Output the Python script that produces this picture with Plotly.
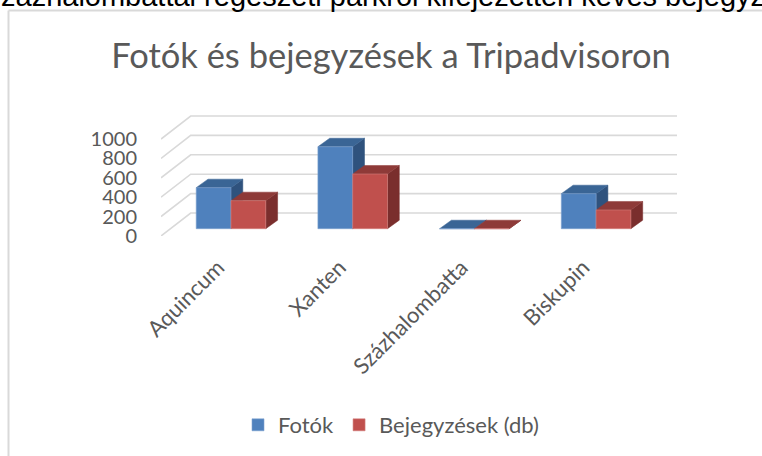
import plotly.graph_objects as go

categories = ["Aquincum", "Xanten", "Százhalombatta", "Biskupin"]
fotok = [423, 845, 0, 361]
bejegyzesek = [289, 564, 0, 193]
y_ticks = [0, 200, 400, 600, 800, 1000]
series_names = ["Fotók", "Bejegyzések (db)"]

W, H = 762, 456
FONT = "Lato"
GRAY = "#595959"
GRID = "#D9D9D9"

# pixel frame of the plot area
PX_LEFT, PX_RIGHT, PY_BOTTOM, PY_TOP = 161, 690, 236, 110
CAT_PX = 121.7        # pixels per category
C0_PX = 231           # pixel of the first category centre
V_PX = 0.097          # pixels per value unit

x_range = [(PX_LEFT - C0_PX) / CAT_PX, (PX_RIGHT - C0_PX) / CAT_PX]
y_range = [0, (PY_BOTTOM - PY_TOP) / V_PX]

# oblique projection in data units
WALL_DX, WALL_DY = 29.7 / CAT_PX, 23 / V_PX
BAR_BASE = 7.3 / V_PX
BAR_DX, BAR_DY = 11.8 / CAT_PX, 8.5 / V_PX
BAR_W = 34.8 / CAT_PX
GRID_END = (677 - C0_PX) / CAT_PX
LABEL_SHIFT = 13 / CAT_PX


def poly(points, fill):
    path = "M" + " L".join(f"{x},{y}" for x, y in points) + " Z"
    return dict(type="path", path=path, xref="x", yref="y", layer="below",
                fillcolor=fill, line=dict(color=fill, width=0.5))


shapes = []
# chart frame
shapes.append(dict(type="line", xref="paper", yref="paper", x0=8.5 / W, x1=8.5 / W,
                   y0=0, y1=1 - 10.5 / H, line=dict(color=GRID, width=2), layer="below"))
shapes.append(dict(type="line", xref="paper", yref="paper", x0=8.5 / W, x1=1,
                   y0=1 - 10.5 / H, y1=1 - 10.5 / H, line=dict(color=GRID, width=2), layer="below"))
# receding gridlines
for t in y_ticks:
    shapes.append(dict(type="path", xref="x", yref="y", layer="below",
                       path=f"M{x_range[0]},{t} L{x_range[0] + WALL_DX},{t + WALL_DY} L{GRID_END},{t + WALL_DY}",
                       line=dict(color=GRID, width=1.6)))

faces = [(fotok, -BAR_W, "#3A6595", "#2F527D"), (bejegyzesek, 0, "#8E3A38", "#7A2E2D")]
for i in range(len(categories)):
    for values, off, top_c, side_c in faces:
        x0 = i + off
        x1 = x0 + BAR_W
        yb = BAR_BASE
        yt = BAR_BASE + values[i]
        shapes.append(poly([(x1, yb), (x1 + BAR_DX, yb + BAR_DY), (x1 + BAR_DX, yt + BAR_DY), (x1, yt)], side_c))
        shapes.append(poly([(x0, yt), (x0 + BAR_DX, yt + BAR_DY), (x1 + BAR_DX, yt + BAR_DY), (x1, yt)], top_c))

fig = go.Figure()
xs = list(range(len(categories)))
for name, values, off, col, edge in [
    (series_names[0], fotok, -BAR_W, "#4F81BD", "#7FA3D0"),
    (series_names[1], bejegyzesek, 0, "#C0504D", "#D47F7C"),
]:
    fig.add_trace(go.Bar(x=xs, y=values, base=BAR_BASE, width=BAR_W, offset=off, name=name,
                         marker=dict(color=col, line=dict(color=edge, width=0.6))))

fig.update_layout(
    width=W, height=H, autosize=False,
    margin=dict(l=0, r=0, t=0, b=0, autoexpand=False),
    paper_bgcolor="white", plot_bgcolor="rgba(0,0,0,0)",
    barmode="overlay",
    font=dict(family=FONT, color=GRAY),
    title=dict(text="Fotók és bejegyzések a Tripadvisoron", x=391 / W, xanchor="center",
               y=1 - 56 / H, yanchor="middle", font=dict(size=34.5, family=FONT, color=GRAY)),
    xaxis=dict(domain=[PX_LEFT / W, PX_RIGHT / W], range=x_range, tickmode="array",
               tickvals=[x - LABEL_SHIFT for x in xs],
               ticktext=categories, tickangle=-45, showgrid=False, zeroline=False, showline=False,
               ticks="outside", ticklen=9, tickcolor="rgba(0,0,0,0)", tickfont=dict(size=22, color=GRAY)),
    yaxis=dict(domain=[1 - PY_BOTTOM / H, 1 - PY_TOP / H], range=y_range, tickmode="array", tickvals=y_ticks,
               showgrid=False, zeroline=False, showline=False,
               ticks="outside", ticklen=19, tickcolor="rgba(0,0,0,0)", tickfont=dict(size=20, color=GRAY)),
    legend=dict(orientation="h", x=391 / W, xanchor="center", y=1 - 425 / H, yanchor="middle",
                font=dict(size=22, color=GRAY), bgcolor="rgba(0,0,0,0)", traceorder="normal"),
    showlegend=True,
    shapes=shapes,
    annotations=[dict(text="zázhalombattai régészeti parkról kifejezetten kevés bejegyz",
                      xref="paper", yref="paper", x=0, xanchor="left", y=1 - 13 / H, yanchor="bottom",
                      showarrow=False, align="left", borderpad=0,
                      font=dict(size=29, family="Liberation Sans", color="black"))],
)
fig.write_html("out.html", config=dict(displayModeBar=False),
               post_script="document.documentElement.style.margin='0';document.body.style.margin='0';document.body.style.padding='0';")
